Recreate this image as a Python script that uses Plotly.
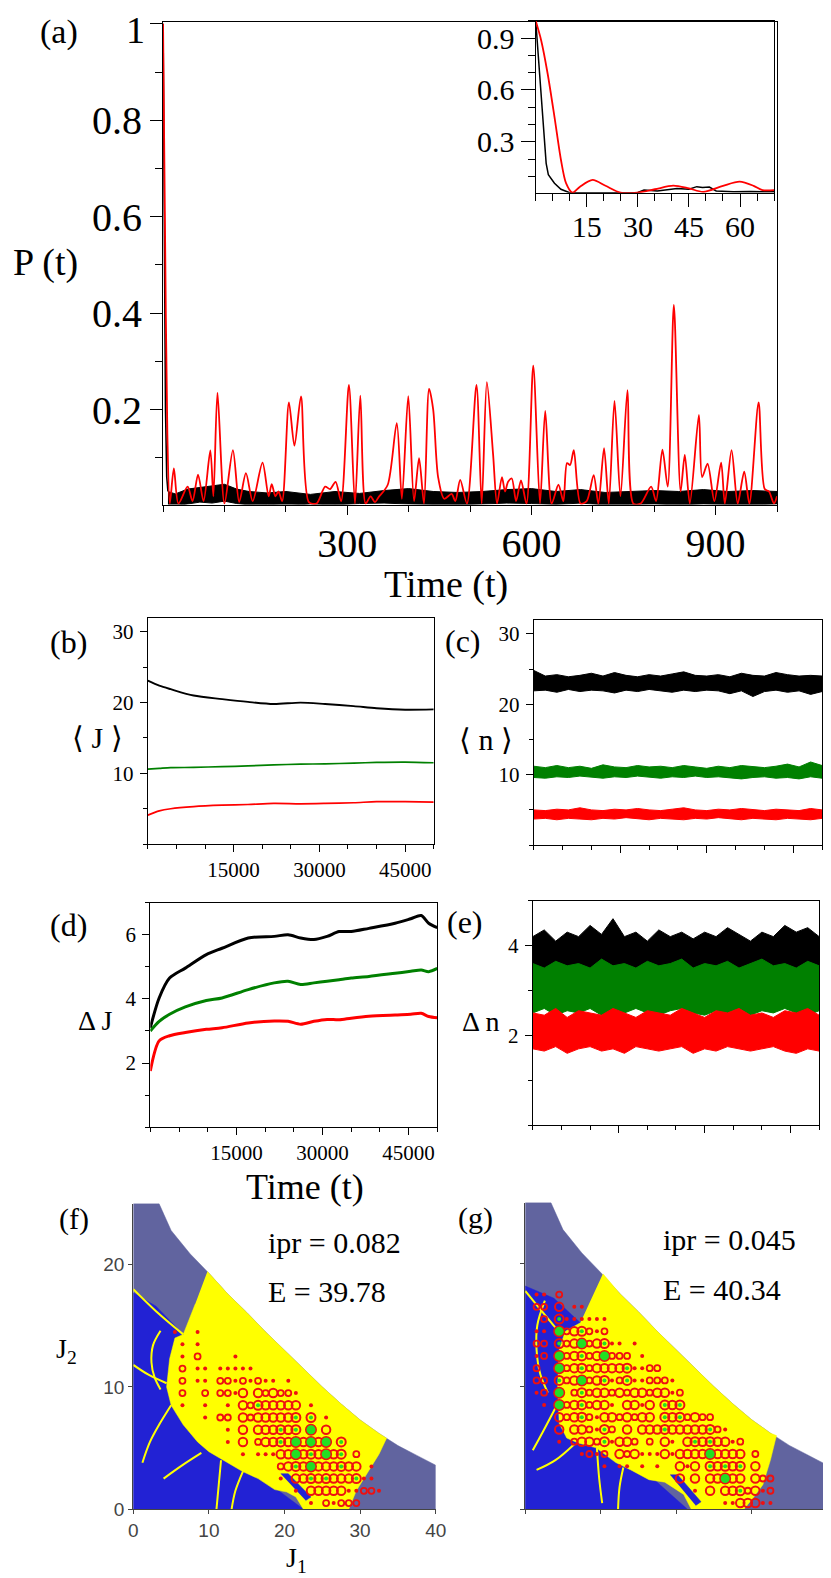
import plotly.graph_objects as go

W, H = 831, 1578
SERIF = "Liberation Serif"
SANS = "Liberation Sans"
RED, GREEN, BLACK = "#ff0000", "#008000", "#000000"

# ---------------- (a) P(t) up to t = 1000 ----------------
a_red_t = [0, 3, 7, 11, 17.6, 25, 40, 48, 57, 66, 77, 82, 88.6, 100, 113.8, 124, 135, 146,
           162, 172, 177, 183, 188, 194, 205, 214, 224.7, 237.5, 250, 264, 272, 281, 290,
           302.7, 312.6, 321.3, 330, 338, 345, 351, 366, 380.7, 389, 399.4, 408.8, 417, 425,
           433.3, 440, 448, 458, 470, 476, 484, 495, 510.5, 519, 527.4, 537.5, 544, 552, 557,
           562, 568, 575, 583, 592, 603, 614, 622.5, 633, 644, 652, 658, 663, 669, 680, 690,
           701.4, 709, 718.3, 726, 735.3, 745, 756.5, 766, 778, 795, 803, 813.4, 822, 832,
           843, 849.8, 858, 872.8, 878, 887, 898, 909, 915, 926, 936, 946.6, 955, 970, 980,
           987, 995, 1000]
a_red_p = [1.0, 0.6, 0.15, 0.005, 0.078, 0.005, 0.04, 0.01, 0.065, 0.01, 0.115, 0.02, 0.235,
           0.005, 0.116, 0.008, 0.068, 0.01, 0.09, 0.02, 0.045, 0.02, 0.03, 0.01, 0.215, 0.125,
           0.227, 0.008, 0.005, 0.04, 0.035, 0.05, 0.01, 0.251, 0.005, 0.229, 0.005, 0.02,
           0.008, 0.018, 0.044, 0.172, 0.015, 0.228, 0.01, 0.099, 0.005, 0.243, 0.2, 0.06,
           0.015, 0.025, 0.01, 0.054, 0.005, 0.251, 0.005, 0.257, 0.108, 0.005, 0.06, 0.03,
           0.05, 0.057, 0.01, 0.053, 0.005, 0.291, 0.005, 0.197, 0.005, 0.044, 0.01, 0.089,
           0.085, 0.116, 0.005, 0.01, 0.064, 0.005, 0.12, 0.005, 0.218, 0.02, 0.24, 0.005,
           0.005, 0.04, 0.01, 0.117, 0.04, 0.417, 0.03, 0.106, 0.005, 0.189, 0.06, 0.0875,
           0.01, 0.09, 0.005, 0.116, 0.005, 0.071, 0.005, 0.215, 0.035, 0.03, 0.005, 0.02]
a_drop_t = [0, 2, 4, 6, 8]
a_drop_p = [1.0, 0.55, 0.2, 0.06, 0.03]
a_blk_t = [8, 20, 40, 60, 80, 100, 120, 140, 170, 200, 240, 280, 320, 360, 400, 440, 480,
           520, 560, 600, 640, 680, 720, 760, 800, 840, 880, 920, 960, 1000]
a_blk_hi = [0.03, 0.025, 0.035, 0.038, 0.042, 0.045, 0.035, 0.03, 0.027, 0.03, 0.024, 0.03,
            0.026, 0.032, 0.036, 0.03, 0.028, 0.03, 0.034, 0.036, 0.03, 0.034, 0.028, 0.03,
            0.032, 0.03, 0.034, 0.03, 0.032, 0.03]
a_blk_lo = [0.0, 0.0, 0.004, 0.008, 0.006, 0.01, 0.005, 0.002, 0.003, 0.0, 0.004, 0.002,
            0.005, 0.006, 0.004, 0.003, 0.002, 0.004, 0.006, 0.005, 0.003, 0.006, 0.002,
            0.003, 0.004, 0.002, 0.004, 0.003, 0.002, 0.004]
a_yticks = [0.2, 0.4, 0.6, 0.8, 1]

# inset: short times
ins_red_t = [0, 1.6, 3.5, 5.5, 7.4, 8.9, 10.8, 13, 16.7, 20.5, 24.9, 29.8, 35, 40.4, 45,
             49.2, 55, 59.9, 64, 66.6, 70]
ins_red_p = [1.0, 0.887, 0.694, 0.444, 0.196, 0.06, 0.005, 0.04, 0.079, 0.045, 0.005, 0.005,
             0.025, 0.046, 0.03, 0.01, 0.045, 0.069, 0.045, 0.02, 0.02]
ins_blk_t = [0, 1.1, 2.1, 3.06, 3.7, 5.5, 7.4, 9.8, 15, 20, 25, 30, 31.8, 35.7, 41.5, 45,
             47.3, 49, 51, 53, 58, 63, 70]
ins_blk_p = [1.0, 0.694, 0.406, 0.175, 0.11, 0.06, 0.025, 0.006, 0.005, 0.006, 0.005, 0.006,
             0.02, 0.015, 0.03, 0.025, 0.04, 0.035, 0.038, 0.015, 0.01, 0.012, 0.01]

# ---------------- (b) <J>(t) ----------------
b_t = [0, 2000, 4000, 8000, 13000, 17500, 22000, 26700, 31000, 36000, 40000, 45000, 50000]
b_black = [23.1, 22.4, 21.9, 21.0, 20.5, 20.1, 19.8, 20.0, 19.8, 19.5, 19.2, 19.0, 19.05]
b_green = [10.6, 10.7, 10.8, 10.85, 10.95, 11.05, 11.2, 11.3, 11.35, 11.45, 11.55, 11.6, 11.5]
b_red = [4.1, 4.7, 5.0, 5.3, 5.5, 5.6, 5.75, 5.7, 5.75, 5.85, 6.0, 6.0, 5.95]

# ---------------- (c) <n>(t): fluctuation envelopes ----------------
c_t = [0, 2000, 4000, 6000, 8000, 10000, 12000, 14000, 16000, 18000, 20000, 22000, 24000,
       26000, 28000, 30000, 32000, 34000, 36000, 38000, 40000, 42000, 44000, 46000, 48000, 50000]
c_black_hi = [24.8, 24.0, 24.2, 23.9, 24.1, 24.4, 24.0, 24.5, 24.1, 23.9, 24.2, 24.0, 24.3,
              24.6, 24.1, 24.0, 24.2, 23.9, 24.4, 24.1, 24.0, 24.5, 24.2, 24.0, 24.1, 24.0]
c_black_lo = [21.9, 22.0, 21.7, 22.1, 21.8, 22.0, 21.9, 21.6, 22.0, 21.8, 22.1, 21.9, 21.7,
              22.0, 21.8, 22.0, 21.9, 21.5, 21.9, 21.1, 21.8, 22.0, 21.7, 21.9, 21.4, 21.8]
c_green_hi = [11.2, 11.0, 11.3, 11.0, 11.2, 10.9, 11.4, 11.1, 11.0, 11.3, 11.1, 11.2, 11.0,
              11.3, 11.1, 10.9, 11.2, 11.0, 11.3, 11.1, 11.0, 11.2, 11.5, 11.1, 11.8, 11.3]
c_green_lo = [9.6, 9.5, 9.7, 9.6, 9.8, 9.6, 9.5, 9.7, 9.6, 9.8, 9.7, 9.5, 9.7, 9.6, 9.8, 9.6,
              9.7, 9.5, 9.4, 9.6, 9.7, 9.5, 9.6, 9.4, 9.7, 9.5]
c_red_hi = [5.0, 4.9, 5.1, 5.0, 5.3, 5.0, 4.9, 5.1, 5.0, 5.2, 5.0, 4.9, 5.1, 5.3, 5.0, 4.9,
            5.1, 5.0, 5.2, 5.0, 4.9, 5.1, 5.0, 4.9, 5.2, 5.0]
c_red_lo = [3.7, 3.8, 3.6, 3.8, 3.7, 3.6, 3.8, 3.7, 3.9, 3.7, 3.6, 3.8, 3.7, 3.6, 3.8, 3.7,
            3.9, 3.7, 3.6, 3.8, 3.7, 3.6, 3.8, 3.7, 3.6, 3.8]

# ---------------- (d) Delta J(t) ----------------
d_t = [0, 1540, 3360, 6100, 9760, 12500, 17060, 21600, 24000, 26200, 28500, 30800, 32900,
       35000, 38080, 42650, 45380, 47200, 48500, 50000]
d_black = [3.1, 4.03, 4.65, 4.96, 5.38, 5.58, 5.9, 5.95, 6.0, 5.9, 5.85, 5.95, 6.1, 6.1, 6.2,
           6.36, 6.5, 6.6, 6.36, 6.22]
d_green = [3.0, 3.3, 3.52, 3.75, 3.95, 4.03, 4.29, 4.5, 4.55, 4.45, 4.5, 4.55, 4.6, 4.65, 4.7,
           4.8, 4.86, 4.9, 4.85, 4.95]
d_red = [1.75, 2.69, 2.85, 2.95, 3.05, 3.1, 3.25, 3.31, 3.3, 3.21, 3.3, 3.36, 3.35, 3.4, 3.46,
         3.5, 3.52, 3.55, 3.45, 3.41]

# ---------------- (e) Delta n(t): fluctuation envelopes ----------------
e_black_hi = [4.2, 4.35, 4.1, 4.3, 4.2, 4.45, 4.25, 4.6, 4.2, 4.3, 4.1, 4.35, 4.2, 4.3, 4.15,
              4.3, 4.2, 4.4, 4.25, 4.1, 4.3, 4.2, 4.45, 4.3, 4.4, 4.2]
e_black_lo = [3.3, 3.35, 3.3, 3.4, 3.3, 3.35, 3.3, 3.4, 3.3, 3.35, 3.3, 3.4, 3.3, 3.35, 3.3,
              3.4, 3.3, 3.35, 3.3, 3.4, 3.3, 3.35, 3.3, 3.4, 3.3, 3.35]
e_green_hi = [3.6, 3.5, 3.65, 3.55, 3.6, 3.5, 3.7, 3.55, 3.6, 3.5, 3.65, 3.55, 3.6, 3.7, 3.5,
              3.6, 3.55, 3.65, 3.5, 3.6, 3.7, 3.55, 3.6, 3.5, 3.65, 3.55]
e_green_lo = [2.5, 2.6, 2.45, 2.55, 2.5, 2.6, 2.45, 2.55, 2.5, 2.6, 2.5, 2.45, 2.55, 2.6, 2.5,
              2.45, 2.55, 2.5, 2.6, 2.45, 2.55, 2.5, 2.6, 2.5, 2.45, 2.55]
e_red_hi = [2.5, 2.45, 2.6, 2.4, 2.55, 2.5, 2.45, 2.6, 2.5, 2.4, 2.55, 2.5, 2.45, 2.6, 2.5,
            2.4, 2.55, 2.5, 2.6, 2.45, 2.5, 2.4, 2.55, 2.5, 2.6, 2.45]
e_red_lo = [1.7, 1.65, 1.75, 1.6, 1.7, 1.75, 1.65, 1.7, 1.6, 1.75, 1.7, 1.65, 1.7, 1.75, 1.6,
            1.7, 1.65, 1.75, 1.7, 1.65, 1.7, 1.75, 1.65, 1.6, 1.7, 1.65]

# ---------------- (f), (g) phase space (J1, J2) ----------------
bnd_j1 = [3.4, 5, 7.5, 10, 12.5, 15, 17.5, 20, 22.5, 25, 27.5, 30, 32.5, 35, 37.5, 40]
bnd_j2 = [25, 22.8, 20.9, 19.3, 17.6, 16.1, 14.5, 13.0, 11.5, 10.0, 8.6, 7.3, 6.2, 5.2, 4.4, 3.6]

f_blue_j1 = [0, 0, 3, 6.6, 10, 16, 22.5]
f_blue_j2 = [0, 17.7, 16.6, 14.3, 8, 3, 0]
f_yel_j1 = [9.8, 12.5, 15, 17.5, 20, 22.5, 25, 27.5, 30, 32.5, 33.5, 32.5, 31, 29.5, 28.5,
            22.5, 21.5, 20.3, 18.7, 16.5, 14.4, 12, 10, 8.5, 6.6, 5, 4.4, 4.8, 5.5, 6.6, 8.2]
f_yel_j2 = [19.45, 17.6, 16.1, 14.5, 13.0, 11.5, 10.0, 8.6, 7.3, 6.2, 5.8, 4.5, 3.0, 1.5, 0,
            0, 1.0, 1.4, 1.6, 2.5, 3.1, 4.0, 4.7, 5.5, 6.9, 8.5, 10, 12.3, 14, 14.3, 16.8]
f_tongue_j1 = [19.5, 20.5, 23.5, 22.8]
f_tongue_j2 = [2.9, 2.9, 1.0, 0.7]
f_fil = [([0, 2.0, 4.4], [11.8, 11.0, 10.3]),
         ([5.0, 3.5, 2.2, 1.2], [8.5, 7.0, 5.5, 3.8]),
         ([3.6, 2.6, 2.4, 2.8, 3.6], [14.6, 13.4, 12.0, 10.8, 9.8]),
         ([0, 3.0, 6.6], [18.0, 16.2, 14.3]),
         ([11.6, 11.3, 11.0], [4.0, 2.0, 0]),
         ([9.0, 6.5, 4.0], [4.6, 3.6, 2.5]),
         ([14.5, 13.5, 13.0], [3.1, 1.5, 0])]
# circle weights on the (J1, J2) lattice, top row first; '.' none,
# 1 dot, 2 small ring, 3 ring, 4 ring with green core, 5 green disc
f_map = [".....1..1.",
         "......1.1.",
         "......1.2....1",
         "......2.11.11111",
         "......2.11.22121211.1",
         "......2..2.2213.323221",
         "......1..1..1.32433333.1",
         ".........1.22.32333334.4.1",
         "............1.3.333434.5.3",
         "............1.3.2334353535.4",
         "..............1.111335343534.2",
         "...................23435333433.1",
         "...................1.33434333411",
         ".....................1.3333311221",
         ".......................1.21222"]

g_blue_j1 = [0, 0, 3.8, 7.3, 10, 16, 21.5]
g_blue_j2 = [0, 18.2, 17.2, 15.2, 9, 3, 0]
g_yel_j1 = [10.3, 12.5, 15, 17.5, 20, 22.5, 25, 27.5, 30, 32.5, 33.3, 32.5, 31.5, 30.3, 29,
            22, 21, 18.5, 16.4, 14, 12, 9.4, 7, 5.5, 4.5, 4.3, 4.5, 5.3, 7.3]
g_yel_j2 = [19.2, 17.6, 16.1, 14.5, 13.0, 11.5, 10.0, 8.6, 7.3, 6.2, 6.0, 4.0, 2.0, 1.0, 0,
            0, 1.2, 2.2, 2.4, 3.2, 3.8, 5.0, 5.4, 5.8, 7.0, 10, 13, 14.5, 15.2]
g_tongue_j1 = [19.2, 20.2, 23.3, 22.6]
g_tongue_j2 = [2.8, 2.8, 0.6, 0.3]
g_fil = [([2.6, 1.6, 1.5, 2.0, 3.0], [17.0, 15.0, 13.0, 11.0, 9.5]),
         ([0, 2.0, 4.0], [17.8, 16.3, 14.8]),
         ([4.2, 2.5, 1.0], [8.5, 6.5, 4.8]),
         ([9.5, 9.8, 10.2], [5.0, 2.5, 0.5]),
         ([6.5, 4.0, 1.5], [5.3, 4.0, 3.2]),
         ([13, 12.5, 12.3], [3.4, 1.8, 0])]
g_map = [".11.2",
         ".22.3.11",
         "..2.4111111",
         ".11.5234212",
         ".22.423523411.1",
         ".12.5234235222.1",
         ".2..52342333341122",
         ".22.4235234124112221",
         ".12.5.242332323323312",
         "..1.52342331.3313.434",
         "....3234213323233.4342322",
         "....3.332142.3.333433333421",
         "....1.233241332.2.31.34343312",
         ".......1212.32311131333353333.2",
         "..........1.11.1.1..313.43434.3",
         "....................3.3.33533.322",
         "......................1.3.3342312",
         "..........................1133311"]


def dx(x0, x1):
    return [x0 / W, x1 / W]


def dy(y0, y1):
    return [1 - y1 / H, 1 - y0 / H]


def axis(dom, rng, size, tickvals=None, minor=None, labels=True, ticklen=7, mlen=4,
         mirror=True, font=SERIF, color="black", standoff=0, ticktext=None):
    d = dict(domain=dom, range=rng, showline=True, linecolor=color, linewidth=1.3,
             mirror=mirror, ticks="outside", ticklen=ticklen, tickwidth=1.2, tickcolor=color,
             showgrid=False, zeroline=False, showticklabels=labels, fixedrange=True,
             ticklabelstandoff=standoff,
             tickfont=dict(family=font, size=size, color=color))
    if tickvals is not None:
        d["tickmode"] = "array"
        d["tickvals"] = tickvals
        d["ticktext"] = ticktext or [("%g" % v) for v in tickvals]
    if minor is not None:
        d["minor"] = dict(tickmode="linear", tick0=0, dtick=minor, ticks="outside",
                          ticklen=mlen, tickwidth=1, tickcolor=color, showgrid=False)
    return d


fig = go.Figure()


def ref(n):
    return ("x", "y") if n == 1 else ("x%d" % n, "y%d" % n)


def line(n, x, y, color, width=1.6, shape="linear"):
    xa, ya = ref(n)
    fig.add_trace(go.Scatter(x=x, y=y, mode="lines", xaxis=xa, yaxis=ya,
                             line=dict(color=color, width=width, shape=shape,
                                       smoothing=0.8 if shape == "spline" else None),
                             showlegend=False, hoverinfo="skip"))


def band(n, x, lo, hi, color):
    xa, ya = ref(n)
    fig.add_trace(go.Scatter(x=x, y=lo, mode="lines", xaxis=xa, yaxis=ya,
                             line=dict(color=color, width=1), showlegend=False,
                             hoverinfo="skip"))
    fig.add_trace(go.Scatter(x=x, y=hi, mode="lines", xaxis=xa, yaxis=ya, fill="tonexty",
                             fillcolor=color, line=dict(color=color, width=1),
                             showlegend=False, hoverinfo="skip"))


def poly(n, x, y, color):
    xa, ya = ref(n)
    fig.add_trace(go.Scatter(x=x, y=y, mode="lines", fill="toself", fillcolor=color,
                             xaxis=xa, yaxis=ya, line=dict(color=color, width=0.5),
                             showlegend=False, hoverinfo="skip"))


def phase(n, blue_x, blue_y, yel_x, yel_y, tong_x, tong_y, fils, cmap):
    poly(n, [0, 0] + bnd_j1 + [40, 0], [0, 25] + bnd_j2 + [0, 0], "#61649f")
    poly(n, blue_x, blue_y, "#2222d4")
    poly(n, yel_x, yel_y, "#ffff00")
    poly(n, tong_x, tong_y, "#2222d4")
    xa, ya = ref(n)
    for fx, fy in fils:
        fig.add_trace(go.Scatter(x=fx, y=fy, mode="lines", xaxis=xa, yaxis=ya,
                                 line=dict(color="#ffff00", width=2, shape="spline"),
                                 showlegend=False, hoverinfo="skip"))
    pts = {w: ([], []) for w in "12345"}
    nrow = len(cmap)
    for r, row in enumerate(cmap):
        for c, ch in enumerate(row):
            if ch != ".":
                pts[ch][0].append(c + 0.5)
                pts[ch][1].append(nrow - 1 - r + 0.5)
    style = {"1": dict(symbol="circle", size=4, color="#ee1010", line=dict(width=0)),
             "2": dict(symbol="circle-open", size=6, color="#ee1010", line=dict(width=1.8)),
             "3": dict(symbol="circle-open", size=8.5, color="#ee1010", line=dict(width=2)),
             "4": dict(symbol="circle-open", size=9, color="#ee1010", line=dict(width=2)),
             "5": dict(symbol="circle", size=10.5, color="#22e022",
                       line=dict(width=1.5, color="#ee1010"))}
    for w in "12345":
        fig.add_trace(go.Scatter(x=pts[w][0], y=pts[w][1], mode="markers", xaxis=xa,
                                 yaxis=ya, marker=style[w], showlegend=False,
                                 hoverinfo="skip"))
    fig.add_trace(go.Scatter(x=pts["4"][0], y=pts["4"][1], mode="markers", xaxis=xa,
                             yaxis=ya, marker=dict(symbol="circle", size=4, color="#22e022"),
                             showlegend=False, hoverinfo="skip"))


# (a)
band(1, a_blk_t, a_blk_lo, a_blk_hi, BLACK)
line(1, a_drop_t, a_drop_p, BLACK, 1.6)
line(1, a_red_t, a_red_p, RED, 1.8, "spline")
line(2, ins_blk_t, ins_blk_p, BLACK, 1.5)
line(2, ins_red_t, ins_red_p, RED, 1.8, "spline")
# (b)
line(3, b_t, b_black, BLACK, 1.9, "spline")
line(3, b_t, b_green, GREEN, 1.7, "spline")
line(3, b_t, b_red, RED, 1.7, "spline")
# (c)
band(4, c_t, c_black_lo, c_black_hi, BLACK)
band(4, c_t, c_green_lo, c_green_hi, GREEN)
band(4, c_t, c_red_lo, c_red_hi, RED)
# (d)
line(5, d_t, d_black, BLACK, 3, "spline")
line(5, d_t, d_green, GREEN, 3, "spline")
line(5, d_t, d_red, RED, 3, "spline")
# (e)
band(6, c_t, e_black_lo, e_black_hi, BLACK)
band(6, c_t, e_green_lo, e_green_hi, GREEN)
band(6, c_t, e_red_lo, e_red_hi, RED)
# (f), (g)
phase(7, f_blue_j1, f_blue_j2, f_yel_j1, f_yel_j2, f_tongue_j1, f_tongue_j2, f_fil, f_map)
phase(8, g_blue_j1, g_blue_j2, g_yel_j1, g_yel_j2, g_tongue_j1, g_tongue_j2, g_fil, g_map)

t_ticks = [15000, 30000, 45000]
lay = dict(width=W, height=H, margin=dict(l=0, r=0, t=0, b=0), autosize=False,
           paper_bgcolor="white", plot_bgcolor="rgba(0,0,0,0)", showlegend=False)
lay["xaxis"] = axis(dx(153, 779), [0, 1000], 40, [300, 600, 900], 100, ticklen=9, mlen=6,
                    standoff=-6)
# the top label "1" is placed as an annotation so it is not cut at the page edge
lay["yaxis"] = axis(dy(14, 500), [0.003, 1.004], 40, a_yticks, 0.1, ticklen=12, mlen=7,
                    ticktext=["%g" % v for v in a_yticks[:-1]] + [""])
lay["xaxis2"] = axis(dx(533, 776), [0, 70], 30, [15, 30, 45, 60], 5, ticklen=13, mlen=7,
                     standoff=-6)
lay["yaxis2"] = axis(dy(13, 186), [0.005, 1.0], 30, [0.3, 0.6, 0.9], 0.1, ticklen=14, mlen=7)
lay["xaxis3"] = axis(dx(137.5, 429), [0, 50000], 21, t_ticks, 5000)
lay["yaxis3"] = axis(dy(614, 842), [0, 32], 21, [10, 20, 30], 5, standoff=2)
lay["xaxis4"] = axis(dx(531, 825), [0, 50000], 21, t_ticks, 5000, labels=False)
lay["yaxis4"] = axis(dy(616, 843), [0, 32], 21, [10, 20, 30], 5, standoff=2)
lay["xaxis5"] = axis(dx(140, 432.6), [0, 50000], 21, t_ticks, 5000)
lay["yaxis5"] = axis(dy(901, 1127), [0, 7], 21, [2, 4, 6], 1, standoff=2)
lay["xaxis6"] = axis(dx(530, 822), [0, 50000], 21, t_ticks, 5000, labels=False)
lay["yaxis6"] = axis(dy(899, 1125), [0, 5], 21, [2, 4], 1, standoff=2)
lay["xaxis7"] = axis(dx(122.7, 431), [0, 40], 19, [0, 10, 20, 30, 40], ticklen=4,
                     mirror=False, font=SANS, color="#444444")
lay["yaxis7"] = axis(dy(1204, 1511.7), [0, 25], 19, [0, 10, 20], ticklen=4, mirror=False,
                     font=SANS, color="#444444")
lay["xaxis8"] = axis(dx(522.3, 830), [0, 40], 19, [0, 10, 20, 30, 40], ticklen=4,
                     mirror=False, font=SANS, color="#444444", labels=False)
lay["yaxis8"] = axis(dy(1203, 1511.7), [0, 25], 19, [0, 10, 20], ticklen=4, mirror=False,
                     font=SANS, color="#444444", labels=False)
for n in range(1, 9):
    xk, yk = ("xaxis", "yaxis") if n == 1 else ("xaxis%d" % n, "yaxis%d" % n)
    xa, ya = ref(n)
    lay[xk]["anchor"] = ya
    lay[yk]["anchor"] = xa

texts = [("(a)", 47, 24, 34, "center"), ("P (t)", 33, 256, 38, "center"),
         ("Time (t)", 441, 581, 38, "center"),
         ("(b)", 57, 638, 32, "center"), ("\u27e8 J \u27e9", 86, 735, 30, "center"),
         ("(c)", 459, 637, 32, "center"), ("\u27e8 n \u27e9", 482, 737, 30, "center"),
         ("(d)", 57, 923, 32, "center"), ("\u0394 J", 84, 1020, 28, "center"),
         ("(e)", 461, 920, 32, "center"), ("\u0394 n", 477, 1021, 28, "center"),
         ("Time (t)", 298, 1187, 36, "center"),
         ("(f)", 62, 1219, 30, "center"), ("ipr = 0.082", 258, 1243, 30, "left"),
         ("E = 39.78", 258, 1293, 30, "left"),
         ("J<sub>2</sub>", 55, 1352, 28, "center"), ("J<sub>1</sub>", 289, 1562, 28, "center"),
         ("(g)", 472, 1218, 30, "center"), ("ipr = 0.045", 661, 1240, 30, "left"),
         ("E = 40.34", 661, 1290, 30, "left")]
ann = [dict(text=t, x=x / W, y=1 - y / H, xref="paper", yref="paper",
            xanchor=a, yanchor="middle", showarrow=False,
            font=dict(family=SERIF, size=s, color="black"))
       for t, x, y, s, a in texts]
ann.append(dict(text="1", x=136 / W, y=1, xref="paper", yref="paper", xanchor="right",
                yanchor="top", showarrow=False, borderpad=0,
                font=dict(family=SERIF, size=38, color="black")))
lay["annotations"] = ann
fig.update_layout(**lay)
fig.write_html("out.html")
